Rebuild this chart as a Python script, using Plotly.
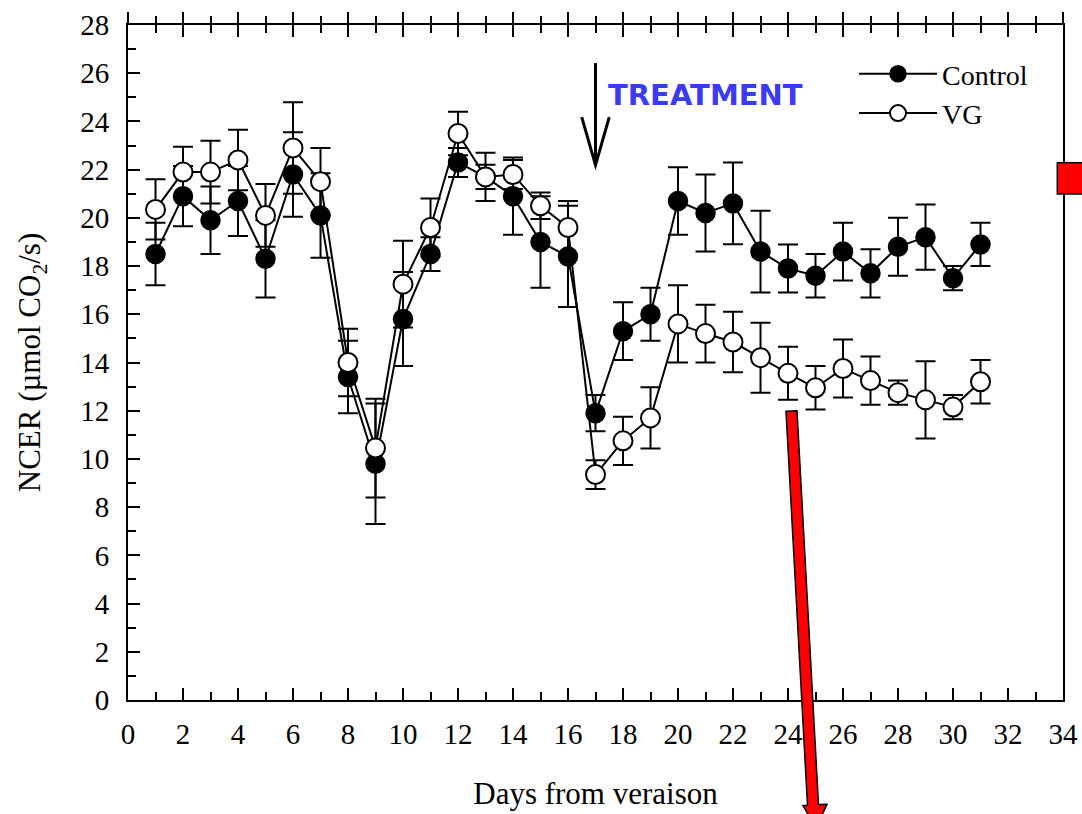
import plotly.graph_objects as go

# ---- data ----
days = list(range(1, 32))
control = [18.5, 20.9, 19.9, 20.7, 18.3, 21.8, 20.1, 13.4, 9.8, 15.8, 18.5, 22.3, 21.7, 20.9, 19.0, 18.4,
           11.9, 15.3, 16.0, 20.7, 20.2, 20.6, 18.6, 17.9, 17.6, 18.6, 17.7, 18.8, 19.2, 17.5, 18.9]
control_err = [1.3, 1.25, 1.4, 1.45, 1.6, 1.75, 1.75, 1.5, 2.5, 1.95, 0.7, 0.6, 0.5, 1.6, 1.9, 2.1,
               0.75, 1.2, 1.1, 1.4, 1.6, 1.7, 1.7, 1.0, 0.9, 1.2, 1.0, 1.2, 1.35, 0.5, 0.9]
vg = [20.35, 21.9, 21.9, 22.4, 20.1, 22.9, 21.5, 14.0, 10.45, 17.25, 19.6, 23.5, 21.7, 21.8, 20.5, 19.6,
      9.35, 10.75, 11.7, 15.6, 15.2, 14.85, 14.2, 13.55, 12.95, 13.75, 13.25, 12.75, 12.45, 12.15, 13.2]
vg_err = [1.25, 1.05, 1.3, 1.25, 1.3, 1.9, 1.4, 1.4, 2.05, 1.8, 1.2, 0.9, 1.0, 0.6, 0.55, 1.1,
          0.6, 1.0, 1.27, 1.6, 1.2, 1.25, 1.45, 1.1, 0.9, 1.2, 1.0, 0.5, 1.6, 0.5, 0.9]
series_names = ["Control", "VG"]
x_title = "Days from veraison"
y_title = "NCER (µmol CO<sub>2</sub>/s)"
treatment_label = "TREATMENT"

W, H = 1082, 814
L, R, T, B = 128, 19, 25, 114
PW, PH = W - L - R, H - T - B
FONT = "Liberation Serif"


def pp(px, py):
    """pixel -> paper coordinates"""
    return (px - L) / PW, (H - B - py) / PH


fig = go.Figure()
fig.add_trace(go.Scatter(
    x=days, y=control, name=series_names[0], mode="lines+markers",
    line=dict(color="black", width=2),
    marker=dict(symbol="circle", size=19, color="black", line=dict(color="black", width=1.5)),
    error_y=dict(type="data", array=control_err, visible=True, color="black", thickness=2, width=10),
))
fig.add_trace(go.Scatter(
    x=days, y=vg, name=series_names[1], mode="lines+markers",
    line=dict(color="black", width=2),
    marker=dict(symbol="circle", size=19, color="white", line=dict(color="black", width=2)),
    error_y=dict(type="data", array=vg_err, visible=True, color="black", thickness=2, width=10),
))
# helper trace so the top (crossing-tick) axis is drawn
fig.add_trace(go.Scatter(x=[None], y=[None], xaxis="x2", mode="lines", showlegend=False, hoverinfo="skip"))

axis_common = dict(showgrid=False, zeroline=False, showline=True, linecolor="black", linewidth=2,
                   ticks="inside", tickcolor="black", tickwidth=2, ticklen=12, automargin=False,
                   tickfont=dict(family=FONT, size=29, color="black"))

fig.update_layout(
    width=W, height=H, autosize=False,
    margin=dict(l=L, r=R, t=T, b=B, pad=0),
    paper_bgcolor="white", plot_bgcolor="white",
    font=dict(family=FONT, color="black"),
    xaxis=dict(range=[0, 34], tick0=0, dtick=2, mirror="ticks",
               minor=dict(dtick=1, ticks="inside", ticklen=8, tickwidth=2, tickcolor="black"),
               ticklabelstandoff=7,
               title=dict(text=x_title, font=dict(family=FONT, size=31, color="black"), standoff=34),
               **axis_common),
    xaxis2=dict(range=[0, 34], overlaying="x", side="top", tick0=0, dtick=2, showgrid=False,
                zeroline=False, showline=False, ticks="outside", ticklen=12, tickwidth=2,
                tickcolor="black", showticklabels=False, automargin=False,
                minor=dict(dtick=1, ticks="outside", ticklen=8, tickwidth=2, tickcolor="black")),
    yaxis=dict(range=[0, 28], tick0=0, dtick=2, mirror=True,
               minor=dict(dtick=1, ticks="inside", ticklen=8, tickwidth=2, tickcolor="black"),
               ticklabelstandoff=11,
               title=dict(text=y_title, font=dict(family=FONT, size=31, color="black"), standoff=30),
               **axis_common),
    legend=dict(x=pp(854, 0)[0], y=pp(0, 49)[1], xanchor="left", yanchor="top",
                bgcolor="rgba(0,0,0,0)", itemwidth=78,
                font=dict(family=FONT, size=28, color="black"), tracegroupgap=0),
    showlegend=True,
)

# small overhang of the left axis line above the frame
fig.add_shape(type="line", xref="paper", yref="paper", x0=0, x1=0, y0=1, y1=pp(0, 13)[1],
              line=dict(color="black", width=2))

# TREATMENT label and black arrow (day 17)
fig.add_annotation(x=21.0, y=25.1, xref="x", yref="y", text="<b>" + treatment_label + "</b>",
                   showarrow=False, font=dict(family="DejaVu Sans", size=29, color="#3B3BF6"))
fig.add_shape(type="line", x0=17, x1=17, y0=26.42, y1=22.19, xref="x", yref="y",
              line=dict(color="black", width=3))
fig.add_shape(type="path", path="M 16.5,24.18 L 17,22.19 L 17.5,24.18", xref="x", yref="y",
              line=dict(color="black", width=3))

# red square at right edge
sx0, sy0 = pp(1057.3, 194)
sx1, sy1 = pp(1095, 162.7)
fig.add_shape(type="rect", xref="paper", yref="paper", x0=sx0, x1=sx1, y0=sy0, y1=sy1,
              fillcolor="#FF0000", line=dict(color="black", width=1.5), layer="above")

# red arrow
arrow_px = [(786, 411.3), (797, 410.7), (818.5, 804.5), (827, 804.2), (816, 828),
            (803, 805.6), (807.5, 805.3)]
path = "M " + " L ".join("{:.5f},{:.5f}".format(*pp(a, b)) for a, b in arrow_px) + " Z"
fig.add_shape(type="path", path=path, xref="paper", yref="paper",
              fillcolor="#FF0000", line=dict(color="black", width=1.5), layer="above")

fig.write_html("out.html")
